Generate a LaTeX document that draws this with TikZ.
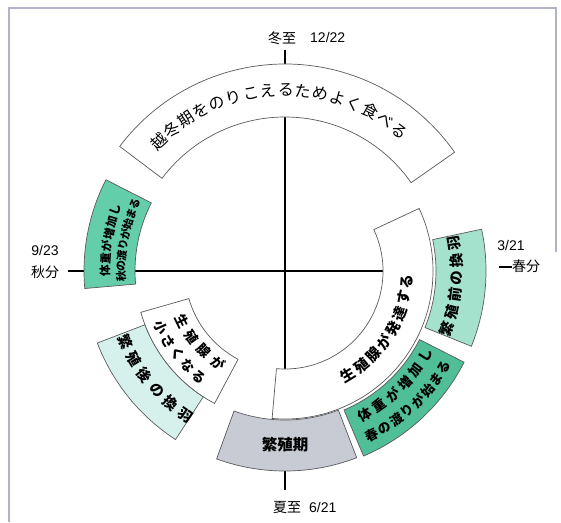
\documentclass[tikz,border=0pt]{standalone}
\usepackage{fontspec}
\newfontfamily\jp{Noto Sans CJK JP}
\newfontfamily\lat{Liberation Sans}
\usetikzlibrary{calc}
\definecolor{autumngreen}{RGB}{100,205,170}
\definecolor{springgreen}{RGB}{80,190,150}
\definecolor{premolt}{RGB}{165,226,206}
\definecolor{postmolt}{RGB}{214,241,235}
\definecolor{breedgray}{RGB}{200,203,212}
\definecolor{framecol}{RGB}{178,178,198}
\definecolor{edgecol}{RGB}{90,90,95}
\tikzset{
  boxedge/.style={draw=edgecol,line width=0.7pt},
  axis/.style={draw=black,line width=1.1pt},
  chr/.style={inner sep=0pt,outer sep=0pt,anchor=center},
  lbl/.style={inner sep=0pt,font=\jp\fontsize{14}{14}\selectfont},
  num/.style={inner sep=0pt,font=\lat\fontsize{14}{14}\selectfont},
}
% #1 style, #2 a1, #3 a2, #4 r inner, #5 r outer
\newcommand\sector[5]{\path[boxedge,#1] (#2:#5) arc[start angle=#2,end angle=#3,radius=#5] -- (#3:#4) arc[start angle=#3,end angle=#2,radius=#4] -- cycle;}
% #1 name prefix, #2 font, #3 radius, #4 start angle, #5 step, #6 rot offset, #7 list
\newcommand\arcline[7]{%
  \foreach \ch [count=\k from 0] in {#7}{%
    \pgfmathsetmacro\ang{#4+\k*(#5)}%
    \pgfmathsetmacro\rot{\ang+#6}%
    \node[chr,font=#2,rotate=\rot] (#1\k) at (\ang:#3) {\ch};
  }}
\begin{document}
\begin{tikzpicture}[x=1pt,y=1pt]
\useasboundingbox (0,0) rectangle (561,522);
% frame
\draw[framecol,line width=2pt] (9,0) -- (9,514) -- (556,514) -- (556,270);
% axes
\coordinate (top) at (285,472);
\coordinate (left) at (68,251);
\coordinate (C) at (285,251);
\coordinate (rtA) at (499,255);
\coordinate (rtB) at (512,255);
\coordinate (botA) at (285,51);
\coordinate (botB) at (285,32);
\begin{scope}[shift={(C)}]
\coordinate (vin) at (-90:98);
\coordinate (hin) at (0:98);
\end{scope}
\draw[axis] (top) -- (vin);
\draw[axis] (left) -- (hin);
\draw[axis] (rtA) -- (rtB);
\draw[axis] (botA) -- (botB);
\begin{scope}[shift={(C)}]
% boxes
\sector{fill=white}{35}{143}{154}{207}
\sector{fill=autumngreen}{153}{185}{150}{201}
\sector{fill=premolt}{-22}{12}{151}{201}
\sector{fill=springgreen}{-67}{-27}{151}{201}
\sector{fill=breedgray}{-110}{-69}{149}{200}
\sector{fill=white}{-95}{25}{98}{148}
\sector{fill=postmolt}{201}{237}{150}{201}
\sector{fill=white}{196}{242}{100}{150}
% texts
\arcline{w}{\jp\fontsize{16}{16}\selectfont}{181}{134.3}{-5.57}{-90}{越,冬,期,を,の,り,こ,え,る,た,め,よ,く,食,べ,る}
\arcline{ao}{\jp\bfseries\fontsize{11.5}{11.5}\selectfont}{180}{180}{-4.0}{-90}{体,重,が,増,加,し}
\arcline{ai}{\jp\bfseries\fontsize{10.8}{10.8}\selectfont}{164}{182}{-3.75}{-90}{秋,の,渡,り,が,始,ま,る}
\arcline{pm}{\jp\bfseries\fontsize{14.5}{14.5}\selectfont}{172}{-19.6}{5.8}{90}{繁,殖,前,の,換,羽}
\arcline{gd}{\jp\bfseries\fontsize{14.5}{14.5}\selectfont}{122}{-58.8}{7.7}{90}{生,殖,腺,が,発,達,す,る}
\arcline{si}{\jp\bfseries\fontsize{13.5}{13.5}\selectfont}{164}{-61}{6}{90}{体,重,が,増,加,し}
\arcline{so}{\jp\bfseries\fontsize{13}{13}\selectfont}{186}{-62}{4.4}{90}{春,の,渡,り,が,始,ま,る}
\arcline{gi}{\jp\bfseries\fontsize{13.5}{13.5}\selectfont}{114}{206}{9.3}{90}{生,殖,腺,が}
\arcline{go}{\jp\bfseries\fontsize{13.5}{13.5}\selectfont}{136}{204.5}{6.6}{90}{小,さ,く,な,る}
\arcline{po}{\jp\bfseries\fontsize{14.5}{14.5}\selectfont}{175}{204}{6.3}{90}{繁,殖,後,の,換,羽}
\end{scope}
\node[chr,font=\jp\bfseries\fontsize{15.5}{15.5}\selectfont] (breed) at (285,77) {繁殖期};
% labels
\node[lbl] (winter) at (282,484) {冬至};
\node[num,anchor=west] (winterd) at (310,484) {12/22};
\node[lbl] (summer) at (287,15) {夏至};
\node[num,anchor=west] (summerd) at (309,15) {6/21};
\node[num] (autumnd) at (45,272) {9/23};
\node[lbl] (autumn) at (45,250) {秋分};
\node[num] (springd) at (511,277) {3/21};
\node[lbl] (spring) at (526,256) {春分};
\end{tikzpicture}
\end{document}
